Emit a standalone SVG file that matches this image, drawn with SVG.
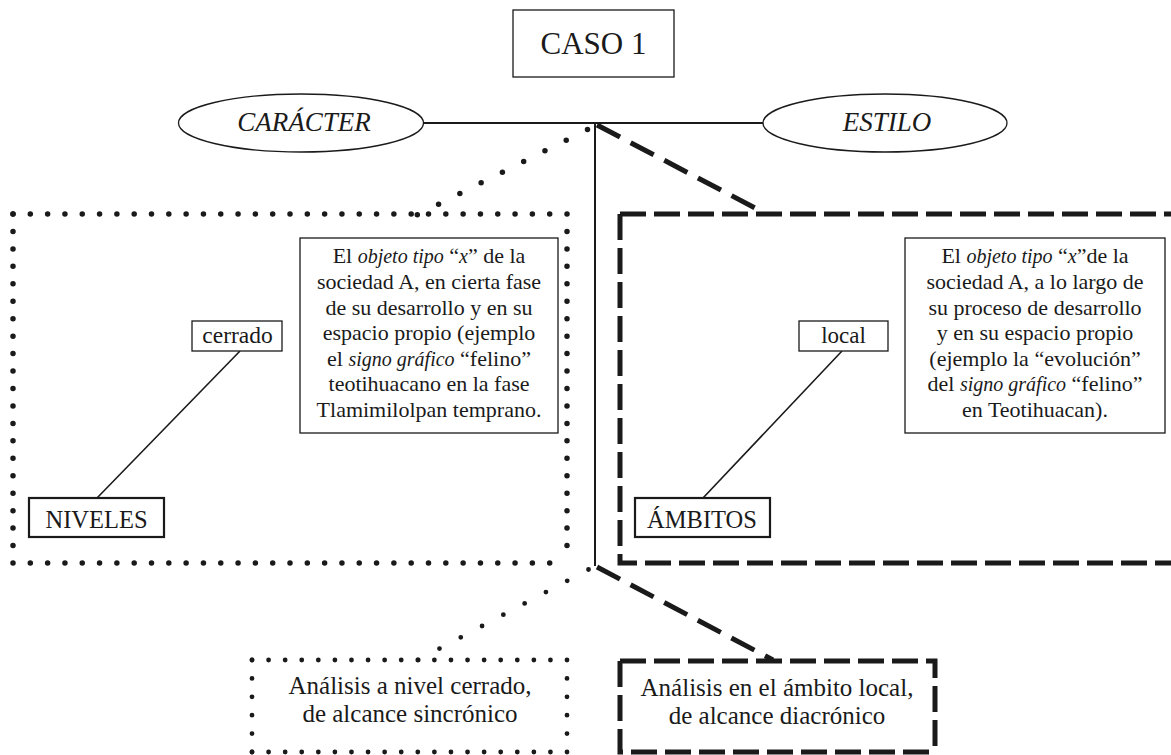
<svg xmlns="http://www.w3.org/2000/svg" width="1171" height="755" viewBox="0 0 1171 755">
<style>
text{font-family:"Liberation Serif","Times New Roman",serif;fill:#1a1a1a;text-anchor:middle}
.box{fill:#fff;stroke:#1a1a1a;stroke-width:1.3}
.boxb{fill:#fff;stroke:#1a1a1a;stroke-width:2.2}
.ell{fill:#fff;stroke:#1a1a1a;stroke-width:1.3}
.line{fill:none;stroke:#1a1a1a;stroke-width:2}
.thin{fill:none;stroke:#1a1a1a;stroke-width:1.6}
.dot{fill:none;stroke:#1a1a1a;stroke-width:5.5;stroke-linecap:round}
.dots{fill:none;stroke:#1a1a1a;stroke-width:4.8;stroke-linecap:round}
.dash{fill:none;stroke:#1a1a1a;stroke-width:5;stroke-dasharray:26 8;stroke-linecap:butt;stroke-linejoin:miter}
.dashd{fill:none;stroke:#1a1a1a;stroke-width:5;stroke-dasharray:26 12}
.bt{font-size:22px}
.it{font-style:italic;font-size:20px}
.bottom{font-size:25px}
</style>
<rect width="1171" height="755" fill="#fff"/>

<g id="connectors">
  <line class="line" x1="423" y1="123" x2="763" y2="123"/>
  <line class="line" x1="595" y1="123" x2="595" y2="566"/>
  <line class="dot" x1="587.5" y1="129.5" x2="417" y2="215" stroke-dasharray="0 23.8"/>
  <line class="dashd" x1="597" y1="125" x2="757" y2="209"/>
  <line class="dots" x1="588.5" y1="569.5" x2="418" y2="660" stroke-dasharray="0 24.1"/>
  <line class="dashd" x1="597" y1="567" x2="773" y2="660"/>
  <line class="thin" x1="240" y1="351" x2="97" y2="498"/>
  <line class="thin" x1="842" y1="351" x2="703" y2="498"/>
</g>

<g id="caso1">
  <rect class="box" x="513" y="10" width="161" height="67"/>
  <text x="593.5" y="54" font-size="31">CASO 1</text>
</g>

<g id="caracter">
  <ellipse class="ell" cx="301" cy="123" rx="122.5" ry="29"/>
  <text x="304" y="131" font-size="27" font-style="italic">CARÁCTER</text>
</g>

<g id="estilo">
  <ellipse class="ell" cx="885" cy="123" rx="122" ry="29"/>
  <text x="887" y="131" font-size="27" font-style="italic">ESTILO</text>
</g>

<g id="niveles-region">
  <path class="dot" d="M13,214 H567" stroke-dasharray="0 17.3125"/>
  <path class="dot" d="M13,563 H567" stroke-dasharray="0 17.3125"/>
  <path class="dot" d="M13,214 V563" stroke-dasharray="0 17.45"/>
  <path class="dot" d="M567,214 V563" stroke-dasharray="0 17.45"/>
</g>

<g id="ambitos-region">
  <path class="dash" d="M620,214 H1180"/>
  <path class="dash" d="M620,214 V563 H1180"/>
</g>

<g id="desc-left">
  <rect class="box" x="300" y="238" width="258" height="195"/>
  <text class="bt" x="429" y="263">El <tspan class="it">objeto tipo</tspan> “<tspan class="it">x</tspan>” de la</text>
  <text class="bt" x="429" y="289">sociedad A, en cierta fase</text>
  <text class="bt" x="429" y="315">de su desarrollo y en su</text>
  <text class="bt" x="429" y="340">espacio propio (ejemplo</text>
  <text class="bt" x="429" y="366">el <tspan class="it">signo gráfico</tspan> “felino”</text>
  <text class="bt" x="429" y="391">teotihuacano en la fase</text>
  <text class="bt" x="429" y="417">Tlamimilolpan temprano.</text>
</g>

<g id="desc-right">
  <rect class="box" x="905" y="238" width="260" height="195"/>
  <text class="bt" x="1035" y="263">El <tspan class="it">objeto tipo</tspan> “<tspan class="it">x</tspan>”de la</text>
  <text class="bt" x="1035" y="289">sociedad A, a lo largo de</text>
  <text class="bt" x="1035" y="315">su proceso de desarrollo</text>
  <text class="bt" x="1035" y="340">y en su espacio propio</text>
  <text class="bt" x="1035" y="366">(ejemplo la “evolución”</text>
  <text class="bt" x="1035" y="391">del <tspan class="it">signo gráfico</tspan> “felino”</text>
  <text class="bt" x="1035" y="417">en Teotihuacan).</text>
</g>

<g id="cerrado">
  <rect class="box" x="192" y="321" width="90" height="30"/>
  <text x="237.5" y="343" font-size="23.5">cerrado</text>
</g>

<g id="local">
  <rect class="box" x="799" y="321" width="89" height="30"/>
  <text x="843.5" y="343" font-size="23">local</text>
</g>

<g id="niveles">
  <rect class="boxb" x="29" y="498" width="135" height="39"/>
  <text x="96.5" y="528" font-size="24.5">NIVELES</text>
</g>

<g id="ambitos">
  <rect class="boxb" x="635" y="498" width="135" height="39"/>
  <text x="702" y="528" font-size="24.5">ÁMBITOS</text>
</g>

<g id="analisis-cerrado">
  <path class="dots" d="M252,660 H567" stroke-dasharray="0 16.58"/>
  <path class="dots" d="M252,752 H567" stroke-dasharray="0 16.58"/>
  <path class="dots" d="M252,660 V752" stroke-dasharray="0 18.4"/>
  <path class="dots" d="M567,660 V752" stroke-dasharray="0 18.4"/>
  <text class="bottom" x="410" y="694">Análisis a nivel cerrado,</text>
  <text class="bottom" x="410" y="722">de alcance sincrónico</text>
</g>

<g id="analisis-local">
  <path class="dash" d="M620,661 H935 V752"/>
  <path class="dash" d="M620,661 V752 H935"/>
  <text class="bottom" x="777" y="696">Análisis en el ámbito local,</text>
  <text class="bottom" x="777" y="724">de alcance diacrónico</text>
</g>
</svg>
